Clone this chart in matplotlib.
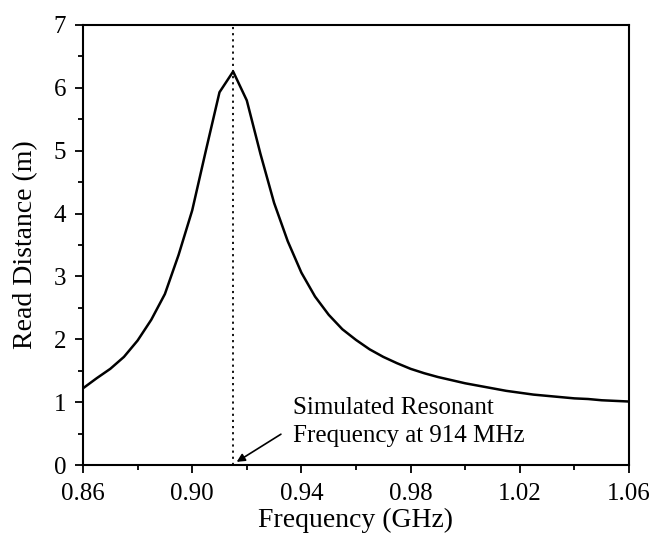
import numpy as np
import matplotlib
matplotlib.use('Agg')
import matplotlib.pyplot as plt
from matplotlib.ticker import MultipleLocator

plt.rcParams['font.family'] = ['Liberation Serif', 'DejaVu Serif']

# ---- data ------------------------------------------------------------------
freq = [0.860, 0.865, 0.870, 0.875, 0.880, 0.885, 0.890, 0.895, 0.900, 0.905,
        0.910, 0.915, 0.920, 0.925, 0.930, 0.935, 0.940, 0.945, 0.950, 0.955,
        0.960, 0.965, 0.970, 0.975, 0.980, 0.985, 0.990, 0.995, 1.000, 1.005,
        1.010, 1.015, 1.020, 1.025, 1.030, 1.035, 1.040, 1.045, 1.050, 1.055,
        1.060]
dist = [1.22, 1.38, 1.53, 1.72, 1.98, 2.31, 2.72, 3.34, 4.05, 5.00,
        5.93, 6.26, 5.80, 4.95, 4.17, 3.56, 3.06, 2.68, 2.39, 2.16,
        1.99, 1.84, 1.72, 1.62, 1.53, 1.46, 1.40, 1.35, 1.30, 1.26,
        1.22, 1.18, 1.15, 1.12, 1.10, 1.08, 1.06, 1.05, 1.03, 1.02,
        1.01]
f_res = 0.915
xticks = [0.86, 0.90, 0.94, 0.98, 1.02, 1.06]
xticklabels = ['0.86', '0.90', '0.94', '0.98', '1.02', '1.06']

# ----------------------------------------------------------------------------
fig = plt.figure(figsize=(6.55, 5.34), dpi=100)
ax = fig.add_axes([0.1267, 0.1292, 0.8336, 0.824])

ax.plot(freq, dist, c='k', lw=1.8)
ax.axvline(f_res, c='k', ls=(0, (1.2, 2.2)), lw=1.3)

# annotation: text plus a separate arrow
ax.text(0.9368, 0.68, 'Simulated Resonant\nFrequency at 914 MHz',
        fontsize=18, va='center', ha='left', linespacing=1.38)
ax.annotate('', xy=(0.9163, 0.05), xytext=(0.9325, 0.49),
            arrowprops=dict(arrowstyle='-|>', color='k', lw=1.2,
                            shrinkA=0, shrinkB=0, mutation_scale=12))

ax.set_xlim(0.86, 1.06)
ax.set_ylim(0, 7)
ax.set_xticks(xticks)
ax.set_xticklabels(xticklabels)
ax.xaxis.set_minor_locator(MultipleLocator(0.02))
ax.yaxis.set_major_locator(MultipleLocator(1))
ax.yaxis.set_minor_locator(MultipleLocator(0.5))
ax.tick_params(which='both', direction='out', top=False, right=False,
               labelsize=18, width=1.3)
ax.tick_params(which='major', length=6)
ax.tick_params(which='minor', length=3.5)
ax.tick_params(axis='x', which='major', pad=7)
ax.tick_params(axis='y', which='major', pad=6)
for s in ax.spines.values():
    s.set_linewidth(1.5)

ax.set_xlabel('Frequency (GHz)', fontsize=20, labelpad=2)
ax.set_ylabel('Read Distance (m)', fontsize=20, labelpad=11)

plt.savefig('out.png', dpi=100)
